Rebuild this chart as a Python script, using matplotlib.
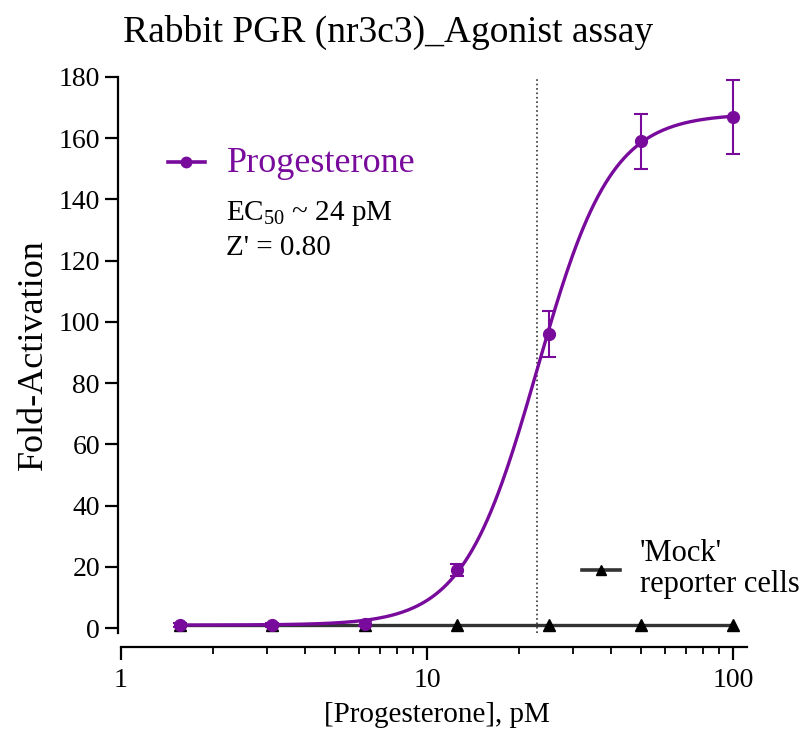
import numpy as np
import matplotlib
matplotlib.use("Agg")
import matplotlib.pyplot as plt
from matplotlib.lines import Line2D
from matplotlib.ticker import LogLocator, FixedLocator, FixedFormatter, NullFormatter

plt.rcParams['font.family'] = ['Liberation Serif', 'DejaVu Serif']
plt.rcParams['mathtext.fontset'] = 'custom'
plt.rcParams['mathtext.rm'] = 'Liberation Serif'
plt.rcParams['mathtext.it'] = 'Liberation Serif:italic'

# data
conc = [1.5625, 3.125, 6.25, 12.5, 25, 50, 100]
prog_mean = [1.0, 1.0, 1.5, 19.0, 96.0, 159.0, 167.0]
prog_err = [0.8, 0.8, 0.8, 2.0, 7.5, 9.0, 12.0]
mock_mean = [1.0, 1.0, 1.0, 1.0, 1.0, 1.0, 1.0]
# 4PL fit parameters (bottom, top, EC50, Hill slope)
fit_bottom, fit_top, fit_ec50, fit_hill = 1.0, 168.0, 22.9, 3.6
ec50_line = 22.9
xticks = [1, 10, 100]
yticks = [0, 20, 40, 60, 80, 100, 120, 140, 160, 180]

purple = '#780a9c'
W, H = 804, 730


def fx(px):
    return px / W


def fy(py):
    return 1 - py / H


fig = plt.figure(figsize=(8.04, 7.30), dpi=100)
ax = fig.add_axes([fx(118), fy(633), 629 / W, 556 / H])

xs = np.logspace(np.log10(conc[0]), np.log10(conc[-1]), 300)
fit = fit_bottom + (fit_top - fit_bottom) / (1 + (fit_ec50 / xs) ** fit_hill)

ax.plot(conc, mock_mean, color='#333333', lw=2.4, zorder=2, clip_on=False)
ax.plot(conc, mock_mean, ls='none', marker='^', color='black', ms=8.5, zorder=3, clip_on=False)
ax.plot(xs, fit, color=purple, lw=2.4, zorder=4, clip_on=False)
ax.errorbar(conc, prog_mean, yerr=prog_err, fmt='o', color=purple, ms=8.5,
            capsize=5, elinewidth=1.5, capthick=1.5, zorder=5, clip_on=False)
ax.axvline(ec50_line, color='#333333', ls=':', lw=1.2, zorder=1)

ax.set_xscale('log')
ax.set_xlim(0.978, 111)
ax.set_ylim(-1.6, 180)
ax.spines['top'].set_visible(False)
ax.spines['right'].set_visible(False)
ax.spines['bottom'].set_position(('outward', 10))
ax.spines['bottom'].set_bounds(1, 111)
ax.spines['left'].set_linewidth(1.6)
ax.spines['bottom'].set_linewidth(1.6)

ax.xaxis.set_major_locator(FixedLocator(xticks))
ax.xaxis.set_major_formatter(FixedFormatter([str(t) for t in xticks]))
ax.xaxis.set_minor_locator(LogLocator(base=10, subs=np.arange(2, 10)))
ax.xaxis.set_minor_formatter(NullFormatter())
ax.set_yticks(yticks)
ax.tick_params(axis='both', which='major', labelsize=20, width=1.6, length=9.5, color='black')
ax.tick_params(axis='x', which='minor', width=1.3, length=5)
ax.tick_params(axis='x', which='major', pad=6)

fig.text(fx(437), fy(715), '[Progesterone], pM', fontsize=21, ha='center', va='center')
fig.text(fx(33), fy(355), 'Fold-Activation', fontsize=26, ha='center', va='center', rotation=90)
fig.text(fx(388), fy(32), 'Rabbit PGR (nr3c3)_Agonist assay', fontsize=27, ha='center', va='center')

# legend for Progesterone
fig.add_artist(Line2D([fx(168), fx(205)], [fy(162), fy(162)], color=purple, lw=2.6,
                      transform=fig.transFigure))
fig.add_artist(Line2D([fx(186.5)], [fy(162)], color=purple, marker='o', ms=7.5,
                      transform=fig.transFigure))
fig.text(fx(227), fy(163), 'Progesterone', fontsize=26, color=purple, ha='left', va='center')

# legend for Mock
fig.add_artist(Line2D([fx(582), fx(620)], [fy(570), fy(570)], color='#333333', lw=2.6,
                      transform=fig.transFigure))
fig.add_artist(Line2D([fx(601)], [fy(570)], color='black', marker='^', ms=7.5,
                      transform=fig.transFigure))
fig.text(fx(640), fy(569), "'Mock'\nreporter cells", fontsize=22, ha='left', va='center',
         linespacing=1.05)

fig.text(fx(226), fy(214), 'EC$_{50}$ ~ 24 pM', fontsize=21, ha='left', va='center')
fig.text(fx(226), fy(248), "Z' = 0.80", fontsize=21, ha='left', va='center')

fig.savefig('out.png', dpi=100)
